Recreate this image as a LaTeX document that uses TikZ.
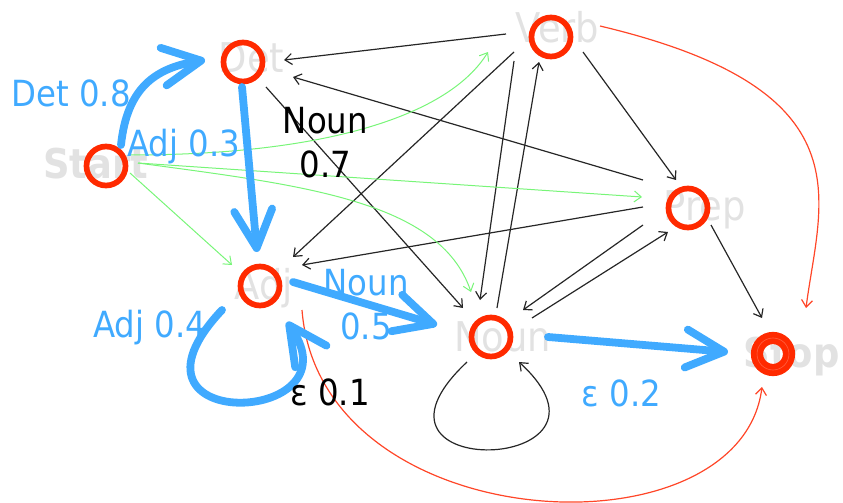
\documentclass[tikz,border=0pt]{standalone}
\usepackage{fontspec}
\setmainfont{DejaVu Sans}[FakeStretch=0.9]
\usetikzlibrary{arrows.meta,calc}
\definecolor{StateRed}{RGB}{255,42,0}
\definecolor{HopBlue}{RGB}{64,170,255}
\definecolor{FadeGray}{RGB}{226,226,226}
\definecolor{EdgeGreen}{RGB}{120,245,120}
\definecolor{EdgeRed}{RGB}{255,70,40}

\begin{document}
\begin{tikzpicture}[
    x=0.5pt, y=-0.5pt,
    state/.style={circle, draw=StateRed, line width=2.85pt, minimum size=19.5pt, inner sep=0pt},
    final/.style={circle, draw=StateRed, line width=2.9pt, double=StateRed!75, double distance=0.3pt,
        minimum size=16pt, inner sep=0pt},
    tname/.style={font=\fontsize{20.5}{24}\selectfont, text=FadeGray, inner sep=0pt},
    tbold/.style={tname, font=\fontsize{20.5}{24}\selectfont\bfseries},
    blab/.style={font=\fontsize{18}{22}\selectfont, text=HopBlue, inner sep=0pt, align=center},
    klab/.style={blab, text=black},
    hop/.style={-{Straight Barb[length=19pt,width=19pt,round]}, line width=3.9pt, HopBlue, line cap=round},
    link/.style={-{Straight Barb[length=3.5pt,width=5.5pt]}, line width=0.6pt, black!85},
    glink/.style={link, line width=0.5pt, EdgeGreen},
    rlink/.style={link, EdgeRed},
]
\useasboundingbox (0,0) rectangle (843,503);

% faded state names
\node[tbold] (startname) at (95.5,164) {Start};
\node[tname] (detname) at (251.5,58) {Det};
\node[tname] (verbname) at (557.5,27.5) {Verb};
\node[tname] (prepname) at (705,210) {Prep};
\node[tname] (adjname) at (264,288) {Adj};
\node[tname] (nounname) at (502.5,336.5) {Noun};
\node[tbold] (stopname) at (791.5,356.7) {Stop};

% states
\node[state] (start) at (106,166) {};
\node[state] (det) at (243,62) {};
\node[state] (verb) at (551,37) {};
\node[state] (prep) at (688,208) {};
\node[state] (adj) at (260,286) {};
\node[state] (noun) at (491,337) {};
\node[final] (stop) at (773,354) {};

% black transitions
\draw[link] ($(verb)+(-45,-3)$) -- ($(det)+(41,-2)$);
\draw[link] ($(prep)+(-45,-28)$) -- ($(det)+(50,15)$);
\draw[link] ($(det)+(23,25)$) -- ($(noun)+(-28,-29)$);
\draw[link] ($(verb)+(-37,15)$) -- ($(adj)+(33,-29)$);
\draw[link] ($(prep)+(-45,-1)$) -- ($(adj)+(42,-21)$);
\draw[link] ($(verb)+(-37,24)$) -- ($(noun)+(-11,-37)$);
\draw[link] ($(noun)+(6,-29)$) -- ($(verb)+(-12,25)$);
\draw[link] ($(verb)+(32,15)$) -- ($(prep)+(-12,-28)$);
\draw[link] ($(prep)+(-45,17)$) -- ($(noun)+(32,-27)$);
\draw[link] ($(noun)+(41,-19)$) -- ($(prep)+(-20,24)$);
\draw[link] ($(prep)+(23,17)$) -- ($(stop)+(-11,-36)$);
\draw[link] ($(noun)+(-24,25)$) .. controls +(-130,122) and +(122,112) .. ($(noun)+(28,25)$);

% green transitions out of Start
\draw[glink] ($(start)+(24,-11)$) .. controls +(200,0) and +(-38,62) .. ($(verb)+(-63,15)$);
\draw[glink] ($(start)+(32,-3)$) -- ($(prep)+(-46,-11)$);
\draw[glink] ($(start)+(32,-3)$) .. controls +(162,22) and +(-31,-92) .. ($(noun)+(-20,-45)$);
\draw[glink] ($(start)+(24,7)$) -- ($(adj)+(-28,-21)$);

% red transitions into Stop
\draw[rlink] ($(verb)+(49,-11)$) .. controls +(270,64) and +(14,-108) .. ($(stop)+(33,-46)$);
\draw[rlink] ($(adj)+(42,24)$) .. controls +(18,230) and +(-22,173) .. ($(stop)+(-11,33)$);

% highlighted path
\draw[hop] ($(start)+(15,-21)$) .. controls +(6,-57) and +(-50,8) .. ($(det)+(-38,-2)$);
\draw[hop] ($(det)+(-1,25)$) -- ($(adj)+(-3,-34)$);
\draw[hop] ($(adj)+(-38,24)$) .. controls +(-118,125) and +(72,104) .. ($(adj)+(27,36)$);
\draw[hop] ($(adj)+(33,-4)$) -- ($(noun)+(-54,-12)$);
\draw[hop] ($(noun)+(57,0)$) -- ($(stop)+(-45,-2)$);

% probabilities
\node[blab] (pdet) at (71,93) {Det 0.8};
\node[blab] (padj) at (183.5,146.5) {Adj 0.3};
\node[klab] (pnoun) at (325.5,142.5) {Noun\\0.7};
\node[blab] (padjloop) at (149.5,327.5) {Adj 0.4};
\node[blab] (pnounadj) at (366,305) {Noun\\0.5};
\node[klab] (peps) at (330,392.5) {ε 0.1};
\node[blab] (pend) at (621.5,393.5) {ε 0.2};
\end{tikzpicture}
\end{document}
